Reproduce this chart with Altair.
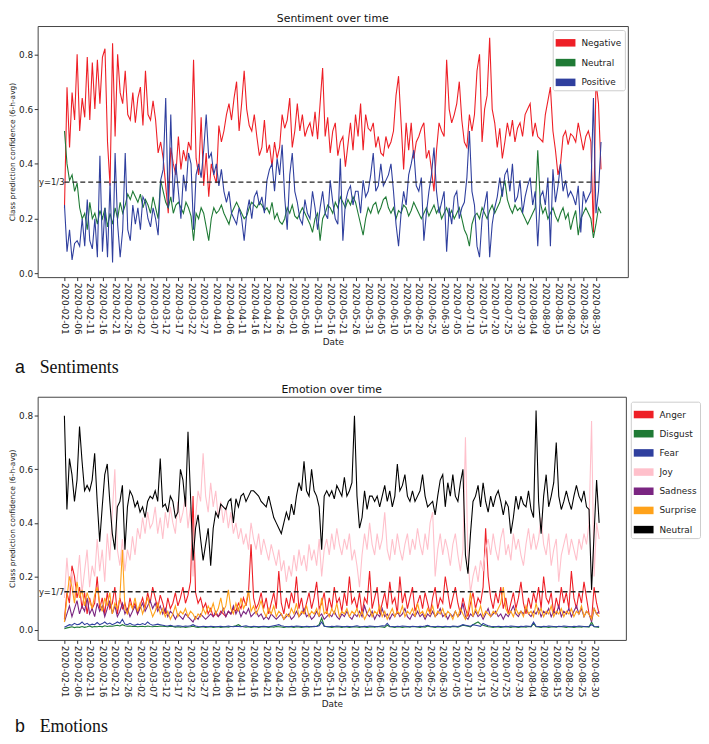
import altair as alt
import pandas as pd

tick_labels = [
    "2020-02-01", "2020-02-06", "2020-02-11", "2020-02-16", "2020-02-21", "2020-02-26",
    "2020-03-02", "2020-03-07", "2020-03-12", "2020-03-17", "2020-03-22", "2020-03-27",
    "2020-04-01", "2020-04-06", "2020-04-11", "2020-04-16", "2020-04-21", "2020-04-26",
    "2020-05-01", "2020-05-06", "2020-05-11", "2020-05-16", "2020-05-21", "2020-05-26",
    "2020-05-31", "2020-06-05", "2020-06-10", "2020-06-15", "2020-06-20", "2020-06-25",
    "2020-06-30", "2020-07-05", "2020-07-10", "2020-07-15", "2020-07-20", "2020-07-25",
    "2020-07-30", "2020-08-04", "2020-08-09", "2020-08-15", "2020-08-20", "2020-08-25",
    "2020-08-30",
]
tick_days = [5 * i for i in range(len(tick_labels))]

# ---------------- Sentiment (daily readings, day 0 = 2020-02-01) ----------------
negative = [
    0.24, 0.68, 0.46, 0.66, 0.56, 0.80, 0.52, 0.64, 0.57, 0.79,
    0.56, 0.77, 0.60, 0.78, 0.62, 0.79, 0.82, 0.48, 0.32, 0.84,
    0.50, 0.80, 0.66, 0.62, 0.74, 0.58, 0.56, 0.66, 0.55, 0.64,
    0.68, 0.54, 0.74, 0.58, 0.56, 0.63, 0.56, 0.44, 0.48, 0.42,
    0.32, 0.22, 0.46, 0.40, 0.36, 0.50, 0.38, 0.45, 0.41, 0.48,
    0.45, 0.78, 0.42, 0.36, 0.57, 0.32, 0.44, 0.28, 0.40, 0.36,
    0.33, 0.54, 0.48, 0.52, 0.58, 0.62, 0.56, 0.64, 0.70, 0.52,
    0.62, 0.74, 0.60, 0.54, 0.52, 0.58, 0.50, 0.43, 0.46, 0.56,
    0.44, 0.47, 0.39, 0.48, 0.42, 0.46, 0.58, 0.53, 0.56, 0.64,
    0.46, 0.52, 0.62, 0.52, 0.58, 0.50, 0.53, 0.55, 0.50, 0.59,
    0.49, 0.62, 0.75, 0.50, 0.57, 0.44, 0.52, 0.55, 0.43, 0.48,
    0.50, 0.39, 0.47, 0.55, 0.45, 0.58, 0.50, 0.62, 0.45, 0.58,
    0.53, 0.52, 0.55, 0.46, 0.50, 0.44, 0.43, 0.50, 0.46, 0.48,
    0.52, 0.65, 0.72, 0.55, 0.38, 0.55, 0.45, 0.55, 0.42, 0.48,
    0.50, 0.53, 0.55, 0.42, 0.45, 0.38, 0.30, 0.45, 0.55, 0.52,
    0.50, 0.78, 0.60, 0.55, 0.58, 0.62, 0.70, 0.56, 0.48, 0.46,
    0.58, 0.52, 0.58, 0.74, 0.80, 0.48, 0.60, 0.65, 0.86, 0.60,
    0.55, 0.46, 0.53, 0.42, 0.48, 0.55, 0.50, 0.56, 0.48, 0.53,
    0.55, 0.50, 0.58, 0.60, 0.62, 0.50, 0.55, 0.50, 0.49, 0.48,
    0.58, 0.63, 0.68, 0.52, 0.45, 0.36, 0.40, 0.50, 0.52, 0.47,
    0.51, 0.50, 0.48, 0.55, 0.50, 0.45, 0.50, 0.52, 0.48, 0.15,
    0.70, 0.62, 0.38,
]
neutral_s = [
    0.52, 0.40, 0.34, 0.36, 0.30, 0.33, 0.24, 0.20, 0.22, 0.16,
    0.26, 0.20, 0.22, 0.18, 0.23, 0.20, 0.24, 0.17, 0.22, 0.18,
    0.24, 0.20, 0.26, 0.22, 0.25, 0.29, 0.27, 0.30, 0.28, 0.26,
    0.29, 0.24, 0.27, 0.25, 0.22, 0.28, 0.24, 0.20, 0.34, 0.30,
    0.26, 0.24, 0.28, 0.22, 0.25, 0.26, 0.24, 0.22, 0.26, 0.24,
    0.21, 0.12, 0.22, 0.20, 0.24, 0.22, 0.17, 0.12, 0.20, 0.24,
    0.22, 0.23, 0.25, 0.22, 0.20, 0.18, 0.22, 0.24, 0.26, 0.24,
    0.22, 0.20, 0.21, 0.24, 0.26, 0.25, 0.24, 0.26, 0.25, 0.23,
    0.24, 0.22, 0.26, 0.20, 0.22, 0.19, 0.18, 0.20, 0.24, 0.22,
    0.25, 0.21, 0.20, 0.22, 0.24, 0.22, 0.20, 0.18, 0.15, 0.20,
    0.22, 0.12, 0.20, 0.22, 0.25, 0.24, 0.22, 0.26, 0.24, 0.28,
    0.26, 0.24, 0.27, 0.25, 0.28, 0.26, 0.22, 0.18, 0.14, 0.20,
    0.24, 0.22, 0.25, 0.26, 0.22, 0.24, 0.27, 0.28, 0.24, 0.22,
    0.24, 0.20, 0.23, 0.22, 0.25, 0.24, 0.21, 0.23, 0.26, 0.24,
    0.22, 0.20, 0.22, 0.24, 0.21, 0.23, 0.25, 0.22, 0.24, 0.20,
    0.22, 0.24, 0.21, 0.23, 0.20, 0.22, 0.24, 0.20, 0.16, 0.14,
    0.10, 0.18, 0.21, 0.22, 0.20, 0.24, 0.22, 0.20, 0.23, 0.25,
    0.22, 0.24, 0.26, 0.30, 0.34, 0.27, 0.24, 0.22, 0.25, 0.23,
    0.24, 0.22, 0.20, 0.18, 0.20, 0.22, 0.24, 0.45, 0.26, 0.22,
    0.24, 0.20, 0.22, 0.24, 0.21, 0.19, 0.22, 0.24, 0.20, 0.22,
    0.16, 0.20, 0.23, 0.14, 0.20, 0.22, 0.24, 0.22, 0.20, 0.13,
    0.18, 0.24, 0.22,
]
positive = [
    0.25, 0.08, 0.16, 0.05, 0.11, 0.12, 0.10, 0.20, 0.10, 0.27,
    0.12, 0.09, 0.20, 0.06, 0.43, 0.08, 0.24, 0.06, 0.33, 0.04,
    0.44, 0.18, 0.06, 0.16, 0.44, 0.16, 0.12, 0.25, 0.18, 0.24,
    0.16, 0.28, 0.26, 0.20, 0.17, 0.24, 0.20, 0.14, 0.34, 0.38,
    0.64, 0.24, 0.58, 0.26, 0.40, 0.30, 0.20, 0.36, 0.30, 0.44,
    0.40, 0.16, 0.36, 0.40, 0.35, 0.45, 0.58, 0.42, 0.44, 0.36,
    0.40, 0.32, 0.38, 0.30, 0.26, 0.30, 0.22, 0.20, 0.18, 0.24,
    0.20, 0.12, 0.22, 0.27, 0.20, 0.28, 0.30, 0.25, 0.28, 0.22,
    0.34, 0.38, 0.40, 0.30, 0.42, 0.36, 0.47, 0.28, 0.16, 0.36,
    0.44, 0.30, 0.26, 0.20, 0.18, 0.27, 0.22, 0.20, 0.30, 0.24,
    0.16, 0.24, 0.30, 0.22, 0.20, 0.34, 0.26, 0.20, 0.18, 0.42,
    0.12, 0.26, 0.30, 0.32, 0.25, 0.30, 0.30, 0.22, 0.34, 0.28,
    0.30, 0.36, 0.44, 0.30, 0.32, 0.40, 0.32, 0.34, 0.36, 0.40,
    0.30, 0.18, 0.10, 0.22, 0.30, 0.25, 0.36, 0.40, 0.45, 0.32,
    0.30, 0.35, 0.12, 0.22, 0.30, 0.36, 0.46, 0.30, 0.22, 0.26,
    0.30, 0.08, 0.24, 0.18, 0.28, 0.30, 0.20, 0.24, 0.26, 0.35,
    0.52, 0.30, 0.25, 0.10, 0.06, 0.20, 0.25, 0.30, 0.06, 0.18,
    0.24, 0.28, 0.35, 0.28, 0.36, 0.38, 0.30, 0.40, 0.26, 0.28,
    0.34, 0.22, 0.28, 0.32, 0.35, 0.25, 0.30, 0.10, 0.28, 0.30,
    0.25, 0.35, 0.10, 0.38, 0.26, 0.32, 0.40, 0.30, 0.34, 0.28,
    0.30, 0.28, 0.25, 0.32, 0.15, 0.30, 0.26, 0.28, 0.30, 0.64,
    0.22, 0.30, 0.48,
]

# ---------------- Emotion (daily readings) ----------------
anger = [
    0.04, 0.14, 0.10, 0.24, 0.20, 0.12, 0.16, 0.08, 0.14, 0.06,
    0.12, 0.08, 0.10, 0.20, 0.08, 0.12, 0.06, 0.14, 0.08, 0.10,
    0.16, 0.06, 0.12, 0.08, 0.10, 0.06, 0.12, 0.08, 0.10, 0.06,
    0.09, 0.12, 0.08, 0.14, 0.10, 0.16, 0.12, 0.08, 0.13, 0.10,
    0.06, 0.12, 0.08, 0.10, 0.14, 0.09, 0.12, 0.16, 0.10, 0.13,
    0.18, 0.50, 0.14, 0.10, 0.12, 0.08, 0.10, 0.06, 0.08, 0.05,
    0.06, 0.05, 0.07, 0.06, 0.05, 0.07, 0.06, 0.08, 0.07, 0.10,
    0.08, 0.12, 0.09, 0.14, 0.32, 0.12, 0.08, 0.10, 0.14, 0.08,
    0.12, 0.06, 0.10, 0.14, 0.08, 0.22, 0.10, 0.06, 0.12, 0.08,
    0.14, 0.10, 0.20, 0.08, 0.12, 0.06, 0.10, 0.14, 0.08, 0.12,
    0.18, 0.08, 0.10, 0.14, 0.06, 0.12, 0.08, 0.16, 0.10, 0.12,
    0.07, 0.14, 0.09, 0.20, 0.10, 0.12, 0.08, 0.14, 0.06, 0.12,
    0.10, 0.22, 0.08, 0.12, 0.16, 0.06, 0.10, 0.14, 0.08, 0.18,
    0.10, 0.12, 0.06, 0.20, 0.10, 0.14, 0.08, 0.12, 0.16, 0.07,
    0.10, 0.13, 0.08, 0.14, 0.10, 0.06, 0.12, 0.16, 0.08, 0.12,
    0.10, 0.20, 0.14, 0.08, 0.12, 0.16, 0.10, 0.06, 0.12, 0.08,
    0.05, 0.10, 0.14, 0.08, 0.12, 0.10, 0.16, 0.38, 0.20, 0.12,
    0.08, 0.14, 0.10, 0.16, 0.08, 0.12, 0.06, 0.10, 0.14, 0.08,
    0.12, 0.18, 0.10, 0.06, 0.12, 0.08, 0.14, 0.10, 0.16, 0.08,
    0.20, 0.12, 0.10, 0.14, 0.06, 0.12, 0.08, 0.16, 0.10, 0.14,
    0.08, 0.22, 0.12, 0.08, 0.14, 0.10, 0.18, 0.12, 0.06, 0.04,
    0.16, 0.10, 0.06,
]
disgust = [
    0.005, 0.008, 0.010, 0.012, 0.009, 0.011, 0.010, 0.013, 0.010, 0.012,
    0.015, 0.011, 0.013, 0.012, 0.014, 0.012, 0.016, 0.013, 0.015, 0.014,
    0.016, 0.018, 0.015, 0.020, 0.016, 0.014, 0.015, 0.013, 0.014, 0.012,
    0.013, 0.014, 0.012, 0.015, 0.013, 0.012, 0.014, 0.013, 0.015, 0.014,
    0.013, 0.012, 0.014, 0.013, 0.011, 0.012, 0.011, 0.012, 0.010, 0.011,
    0.012, 0.014, 0.011, 0.010, 0.011, 0.012, 0.010, 0.011, 0.012, 0.010,
    0.011, 0.012, 0.010, 0.011, 0.012, 0.011, 0.013, 0.014, 0.016, 0.020,
    0.014, 0.012, 0.011, 0.012, 0.010, 0.011, 0.012, 0.010, 0.011, 0.012,
    0.011, 0.010, 0.012, 0.011, 0.013, 0.012, 0.011, 0.010, 0.011, 0.012,
    0.011, 0.010, 0.012, 0.011, 0.010, 0.011, 0.012, 0.011, 0.013, 0.012,
    0.014, 0.020, 0.045, 0.015, 0.012, 0.011, 0.010, 0.011, 0.012, 0.011,
    0.010, 0.012, 0.011, 0.010, 0.011, 0.012, 0.011, 0.010, 0.012, 0.011,
    0.010, 0.011, 0.012, 0.011, 0.013, 0.012, 0.011, 0.010, 0.018, 0.012,
    0.011, 0.010, 0.012, 0.011, 0.010, 0.011, 0.012, 0.011, 0.013, 0.012,
    0.011, 0.010, 0.012, 0.011, 0.015, 0.012, 0.011, 0.010, 0.012, 0.011,
    0.010, 0.011, 0.012, 0.011, 0.013, 0.012, 0.011, 0.014, 0.018, 0.016,
    0.014, 0.012, 0.020, 0.025, 0.030, 0.022, 0.018, 0.015, 0.012, 0.011,
    0.010, 0.012, 0.011, 0.010, 0.011, 0.012, 0.011, 0.010, 0.012, 0.011,
    0.010, 0.011, 0.012, 0.011, 0.013, 0.012, 0.025, 0.012, 0.011, 0.010,
    0.012, 0.011, 0.010, 0.011, 0.012, 0.011, 0.013, 0.012, 0.011, 0.010,
    0.012, 0.011, 0.010, 0.011, 0.012, 0.011, 0.013, 0.012, 0.011, 0.030,
    0.012, 0.011, 0.010,
]
fear = [
    0.010, 0.015, 0.020, 0.018, 0.025, 0.020, 0.022, 0.030, 0.020, 0.025,
    0.018, 0.022, 0.020, 0.028, 0.020, 0.024, 0.030, 0.022, 0.026, 0.020,
    0.024, 0.030, 0.025, 0.040, 0.022, 0.020, 0.025, 0.020, 0.018, 0.022,
    0.020, 0.024, 0.020, 0.030, 0.022, 0.018, 0.020, 0.022, 0.020, 0.018,
    0.016, 0.015, 0.018, 0.015, 0.014, 0.016, 0.015, 0.013, 0.015, 0.014,
    0.016, 0.020, 0.015, 0.013, 0.012, 0.014, 0.013, 0.012, 0.014, 0.013,
    0.012, 0.013, 0.014, 0.012, 0.013, 0.015, 0.013, 0.012, 0.014, 0.013,
    0.012, 0.014, 0.016, 0.013, 0.012, 0.014, 0.013, 0.012, 0.013, 0.014,
    0.013, 0.012, 0.014, 0.016, 0.018, 0.020, 0.016, 0.014, 0.013, 0.012,
    0.014, 0.013, 0.015, 0.014, 0.013, 0.012, 0.014, 0.013, 0.012, 0.014,
    0.013, 0.016, 0.030, 0.014, 0.013, 0.012, 0.014, 0.013, 0.015, 0.014,
    0.013, 0.012, 0.014, 0.013, 0.012, 0.014, 0.016, 0.013, 0.012, 0.014,
    0.013, 0.015, 0.014, 0.013, 0.012, 0.014, 0.016, 0.015, 0.025, 0.014,
    0.013, 0.012, 0.014, 0.013, 0.015, 0.014, 0.013, 0.012, 0.014, 0.013,
    0.012, 0.014, 0.013, 0.015, 0.018, 0.014, 0.013, 0.012, 0.014, 0.013,
    0.012, 0.014, 0.013, 0.012, 0.015, 0.014, 0.013, 0.016, 0.020, 0.018,
    0.016, 0.014, 0.020, 0.018, 0.016, 0.014, 0.025, 0.020, 0.016, 0.014,
    0.013, 0.012, 0.014, 0.013, 0.012, 0.014, 0.013, 0.015, 0.014, 0.013,
    0.012, 0.014, 0.013, 0.015, 0.014, 0.013, 0.030, 0.014, 0.013, 0.012,
    0.014, 0.013, 0.015, 0.014, 0.013, 0.012, 0.014, 0.013, 0.015, 0.014,
    0.013, 0.012, 0.014, 0.013, 0.015, 0.014, 0.013, 0.012, 0.014, 0.020,
    0.013, 0.012, 0.014,
]
joy = [
    0.12, 0.27, 0.15, 0.22, 0.12, 0.18, 0.28, 0.14, 0.22, 0.30,
    0.16, 0.24, 0.20, 0.34, 0.22, 0.30, 0.18, 0.36, 0.26, 0.44,
    0.60, 0.30, 0.24, 0.34, 0.22, 0.30, 0.26, 0.35, 0.28, 0.38,
    0.34, 0.42, 0.36, 0.44, 0.38, 0.40, 0.46, 0.36, 0.42, 0.34,
    0.44, 0.38, 0.46, 0.40, 0.36, 0.48, 0.40, 0.44, 0.50, 0.38,
    0.46, 0.20, 0.42, 0.52, 0.48, 0.66, 0.50, 0.44, 0.55, 0.46,
    0.52, 0.42, 0.48, 0.40, 0.46, 0.38, 0.44, 0.36, 0.40, 0.34,
    0.38, 0.32, 0.36, 0.30, 0.40, 0.34, 0.30, 0.36, 0.28, 0.34,
    0.30, 0.26, 0.32, 0.28, 0.24, 0.30, 0.22, 0.26, 0.18, 0.24,
    0.20, 0.28, 0.22, 0.30, 0.24, 0.28, 0.22, 0.32, 0.26, 0.30,
    0.24, 0.34, 0.20, 0.30, 0.34, 0.28, 0.36, 0.30, 0.38, 0.32,
    0.28, 0.34, 0.30, 0.36, 0.26, 0.30, 0.24, 0.16, 0.28, 0.36,
    0.30, 0.40, 0.32, 0.28, 0.36, 0.30, 0.34, 0.44, 0.30, 0.26,
    0.34, 0.28, 0.36, 0.30, 0.26, 0.32, 0.36, 0.28, 0.34, 0.30,
    0.38, 0.32, 0.28, 0.36, 0.30, 0.40, 0.44, 0.20, 0.30, 0.36,
    0.28, 0.34, 0.30, 0.24, 0.32, 0.36, 0.28, 0.22, 0.30, 0.72,
    0.26, 0.14, 0.20, 0.24, 0.18, 0.26, 0.22, 0.30, 0.34, 0.28,
    0.36, 0.30, 0.26, 0.34, 0.38, 0.28, 0.32, 0.26, 0.36, 0.30,
    0.34, 0.28, 0.24, 0.32, 0.38, 0.30, 0.36, 0.30, 0.34, 0.42,
    0.32, 0.28, 0.36, 0.24, 0.30, 0.34, 0.18, 0.28, 0.32, 0.36,
    0.28, 0.34, 0.30, 0.26, 0.34, 0.30, 0.36, 0.32, 0.40, 0.78,
    0.20, 0.40, 0.34,
]
sadness = [
    0.03, 0.06, 0.09, 0.05, 0.08, 0.11, 0.06, 0.09, 0.07, 0.12,
    0.06, 0.08, 0.05, 0.10, 0.07, 0.09, 0.05, 0.08, 0.11, 0.06,
    0.09, 0.05, 0.07, 0.10, 0.06, 0.08, 0.05, 0.07, 0.09, 0.06,
    0.08, 0.10, 0.07, 0.09, 0.11, 0.08, 0.10, 0.07, 0.09, 0.06,
    0.08, 0.05, 0.07, 0.06, 0.04, 0.06, 0.05, 0.04, 0.06, 0.05,
    0.04, 0.03, 0.05, 0.04, 0.06, 0.05, 0.04, 0.05, 0.06, 0.05,
    0.07, 0.05, 0.06, 0.08, 0.05, 0.07, 0.06, 0.09, 0.06, 0.08,
    0.05, 0.07, 0.06, 0.08, 0.05, 0.06, 0.07, 0.05, 0.06, 0.04,
    0.05, 0.04, 0.06, 0.05, 0.04, 0.05, 0.06, 0.04, 0.05, 0.06,
    0.04, 0.05, 0.07, 0.05, 0.06, 0.08, 0.05, 0.06, 0.04, 0.05,
    0.07, 0.05, 0.06, 0.04, 0.05, 0.06, 0.05, 0.07, 0.05, 0.04,
    0.06, 0.05, 0.07, 0.05, 0.04, 0.06, 0.05, 0.07, 0.05, 0.09,
    0.06, 0.05, 0.07, 0.04, 0.06, 0.05, 0.08, 0.05, 0.06, 0.04,
    0.06, 0.05, 0.07, 0.05, 0.06, 0.08, 0.05, 0.04, 0.06, 0.05,
    0.07, 0.05, 0.06, 0.04, 0.06, 0.05, 0.07, 0.05, 0.06, 0.08,
    0.05, 0.06, 0.04, 0.06, 0.05, 0.07, 0.05, 0.06, 0.10, 0.05,
    0.04, 0.06, 0.05, 0.07, 0.05, 0.06, 0.04, 0.06, 0.08, 0.05,
    0.06, 0.07, 0.05, 0.06, 0.04, 0.06, 0.05, 0.07, 0.09, 0.06,
    0.05, 0.07, 0.06, 0.08, 0.06, 0.05, 0.07, 0.06, 0.08, 0.05,
    0.07, 0.06, 0.08, 0.05, 0.07, 0.06, 0.09, 0.05, 0.07, 0.06,
    0.08, 0.05, 0.07, 0.09, 0.06, 0.08, 0.05, 0.07, 0.06, 0.03,
    0.08, 0.06, 0.07,
]
surprise = [
    0.03, 0.12, 0.20, 0.16, 0.10, 0.18, 0.12, 0.15, 0.09, 0.14,
    0.11, 0.08, 0.13, 0.16, 0.10, 0.07, 0.12, 0.09, 0.14, 0.06,
    0.10, 0.08, 0.12, 0.30, 0.08, 0.06, 0.10, 0.08, 0.12, 0.07,
    0.10, 0.06, 0.09, 0.12, 0.08, 0.05, 0.07, 0.10, 0.06, 0.08,
    0.05, 0.07, 0.04, 0.06, 0.09, 0.05, 0.07, 0.06, 0.08, 0.05,
    0.07, 0.06, 0.04, 0.06, 0.05, 0.08, 0.06, 0.09, 0.07, 0.10,
    0.06, 0.08, 0.12, 0.07, 0.09, 0.15, 0.08, 0.06, 0.10, 0.07,
    0.12, 0.08, 0.10, 0.15, 0.07, 0.09, 0.06, 0.08, 0.11, 0.07,
    0.05, 0.08, 0.06, 0.09, 0.05, 0.07, 0.06, 0.04, 0.06, 0.05,
    0.08, 0.06, 0.10, 0.05, 0.07, 0.06, 0.09, 0.05, 0.07, 0.06,
    0.08, 0.05, 0.12, 0.06, 0.07, 0.05, 0.08, 0.06, 0.10, 0.05,
    0.07, 0.06, 0.08, 0.05, 0.07, 0.06, 0.08, 0.05, 0.07, 0.04,
    0.06, 0.08, 0.05, 0.07, 0.06, 0.09, 0.05, 0.07, 0.04, 0.06,
    0.08, 0.05, 0.07, 0.06, 0.09, 0.05, 0.07, 0.06, 0.08, 0.05,
    0.10, 0.06, 0.07, 0.05, 0.08, 0.06, 0.09, 0.05, 0.07, 0.06,
    0.08, 0.05, 0.07, 0.06, 0.04, 0.07, 0.05, 0.08, 0.06, 0.04,
    0.07, 0.14, 0.05, 0.08, 0.06, 0.09, 0.05, 0.07, 0.06, 0.05,
    0.07, 0.06, 0.08, 0.10, 0.16, 0.08, 0.06, 0.07, 0.05, 0.08,
    0.06, 0.07, 0.05, 0.09, 0.06, 0.07, 0.05, 0.10, 0.06, 0.08,
    0.05, 0.07, 0.06, 0.09, 0.05, 0.07, 0.06, 0.08, 0.05, 0.07,
    0.06, 0.08, 0.05, 0.07, 0.06, 0.09, 0.05, 0.07, 0.06, 0.04,
    0.08, 0.06, 0.05,
]
neutral_e = [
    0.80, 0.45, 0.64, 0.58, 0.48, 0.56, 0.76, 0.63, 0.52, 0.54,
    0.52, 0.56, 0.66, 0.48, 0.33, 0.46, 0.58, 0.62, 0.48, 0.36,
    0.30, 0.46, 0.48, 0.54, 0.30, 0.46, 0.52, 0.50, 0.46, 0.48,
    0.44, 0.46, 0.42, 0.48, 0.50, 0.49, 0.52, 0.48, 0.64, 0.46,
    0.47, 0.44, 0.50, 0.48, 0.42, 0.44, 0.60, 0.56, 0.46, 0.74,
    0.50, 0.26, 0.38, 0.43, 0.34, 0.26, 0.32, 0.38, 0.24, 0.38,
    0.44, 0.42, 0.47, 0.46, 0.45, 0.48, 0.49, 0.40, 0.49, 0.46,
    0.50, 0.51, 0.48, 0.50, 0.52, 0.52, 0.51, 0.50, 0.48, 0.47,
    0.46, 0.50, 0.46, 0.42, 0.40, 0.38, 0.36, 0.40, 0.44, 0.41,
    0.47, 0.43, 0.50, 0.55, 0.52, 0.63, 0.52, 0.50, 0.60, 0.52,
    0.50, 0.46, 0.30, 0.50, 0.52, 0.50, 0.52, 0.49, 0.54, 0.52,
    0.50, 0.57, 0.50, 0.52, 0.55, 0.80, 0.50, 0.38, 0.42, 0.52,
    0.45, 0.50, 0.50, 0.48, 0.50, 0.46, 0.50, 0.54, 0.48, 0.52,
    0.46, 0.50, 0.62, 0.52, 0.54, 0.58, 0.50, 0.48, 0.52, 0.48,
    0.50, 0.52, 0.58, 0.50, 0.46, 0.47, 0.48, 0.43, 0.50, 0.56,
    0.58, 0.46, 0.55, 0.50, 0.58, 0.50, 0.48, 0.55, 0.60, 0.28,
    0.21, 0.36, 0.48, 0.50, 0.54, 0.46, 0.55, 0.48, 0.44, 0.50,
    0.46, 0.50, 0.52, 0.48, 0.43, 0.48, 0.46, 0.36, 0.42, 0.50,
    0.45, 0.50, 0.47, 0.46, 0.52, 0.45, 0.42, 0.82, 0.48, 0.36,
    0.50, 0.58, 0.46, 0.50, 0.55, 0.70, 0.50, 0.45, 0.48, 0.52,
    0.48, 0.45, 0.50, 0.54, 0.50, 0.48, 0.52, 0.46, 0.45, 0.15,
    0.36, 0.56, 0.40,
]

sent_names = ["Negative", "Neutral", "Positive"]
sent_colors = ["#ee1f26", "#1f7a35", "#2f3f9e"]
sent_series = [negative, neutral_s, positive]

emo_names = ["Anger", "Disgust", "Fear", "Joy", "Sadness", "Surprise", "Neutral"]
emo_colors = ["#ee1f26", "#1f7a35", "#2f3f9e", "#ffc0cb", "#7a2581", "#ffa21a", "#000000"]
emo_series = [anger, disgust, fear, joy, sadness, surprise, neutral_e]


def long_table(names, series):
    rows = []
    for k, (name, vals) in enumerate(zip(names, series)):
        for i, v in enumerate(vals):
            rows.append({"day": i, "series": name, "value": v, "k": k})
    return pd.DataFrame(rows)


df_sent = long_table(sent_names, sent_series)
df_emo = long_table(emo_names, emo_series)
last_day = max(len(s) for s in sent_series) - 1

label_expr = "[" + ",".join("'%s'" % t for t in tick_labels) + "][round(datum.value/5)]"

AX = "#333333"
FONT = "DejaVu Sans"


def x_enc():
    return alt.X(
        "day:Q",
        scale=alt.Scale(domain=[-10.6, 222.6], nice=False, zero=False),
        axis=alt.Axis(
            values=tick_days, labelExpr=label_expr, labelAngle=90, title="Date",
            grid=False, domain=False, tickSize=3.5, labelFontSize=9, titleFontSize=9,
            labelPadding=2, titlePadding=3, labelOverlap=False, labelFlush=False,
            labelBound=False, tickColor=AX, labelColor="#222222", titleColor="#222222",
            titleFontWeight="normal",
        ),
    )


def y_enc(domain):
    return alt.Y(
        "value:Q",
        scale=alt.Scale(domain=domain, nice=False, zero=False),
        axis=alt.Axis(
            values=[0, 0.2, 0.4, 0.6, 0.8], format=".1f",
            title="Class prediction confidence (6-h-avg)", grid=False, domain=False,
            tickSize=3.5, labelFontSize=9, titleFontSize=7.5, labelPadding=1.5,
            titlePadding=2, tickColor=AX, labelColor="#222222", titleColor="#222222",
            titleFontWeight="normal",
        ),
    )


SYMBOL = "M-1,-0.38L1,-0.38L1,0.38L-1,0.38Z"


def make_legend(x, y, row_pad):
    return alt.Legend(
        title=None, orient="none", legendX=x, legendY=y,
        symbolType=SYMBOL, symbolSize=400, symbolStrokeWidth=0, symbolOpacity=1,
        labelFontSize=9, labelOffset=6, rowPadding=row_pad, padding=3,
        strokeColor="#cccccc", fillColor="white", cornerRadius=2,
        labelColor="#222222",
    )


def panel(df, names, colors, ydomain, w, h, legend, thresh, thresh_txt, cap_a, cap_b, cap_dy, title):
    xe = x_enc()
    ye = y_enc(ydomain)
    # lines coloured through the stroke channel keyed on the series index (own scale, no legend)
    lines = alt.Chart(df).mark_line(strokeWidth=1.1, clip=True).encode(
        x=xe,
        y=ye,
        stroke=alt.Stroke(
            "k:N", scale=alt.Scale(domain=list(range(len(names))), range=colors), legend=None
        ),
    )
    # an empty layer on the series names carries the legend with filled swatches
    swatches = alt.Chart(df).mark_square(filled=True, opacity=1).encode(
        x=xe,
        y=ye,
        color=alt.Color("series:N", scale=alt.Scale(domain=names, range=colors), legend=legend),
    ).transform_filter("false")
    ref = pd.DataFrame({"day": [0], "day2": [last_day], "value": [thresh], "t": [thresh_txt]})
    rule = alt.Chart(ref).mark_rule(strokeDash=[5, 3], color="#222222", strokeWidth=1.3).encode(
        x=xe, x2="day2:Q", y=ye
    )
    txt = alt.Chart(ref).mark_text(
        align="right", baseline="middle", fontSize=8.5, color="#222222", font=FONT
    ).encode(x=xe, y=ye, text="t:N")
    one = pd.DataFrame({"z": [0]})
    cap1 = alt.Chart(one).mark_text(
        align="left", baseline="middle", fontSize=18, color="#111111", font="Liberation Sans"
    ).encode(x=alt.value(-23), y=alt.value(h + cap_dy), text=alt.value(cap_a))
    cap2 = alt.Chart(one).mark_text(
        align="left", baseline="middle", fontSize=18, color="#111111", font="Liberation Serif"
    ).encode(x=alt.value(2), y=alt.value(h + cap_dy), text=alt.value(cap_b))
    return alt.layer(lines, swatches, rule, txt, cap1, cap2).properties(
        width=w, height=h,
        title=alt.TitleParams(title, fontSize=11, fontWeight="normal", offset=2,
                              anchor="middle", color="#111111", font=FONT),
    )


top = panel(df_sent, sent_names, sent_colors, [-0.013, 0.903], 597, 254,
            make_legend(521, 4, 5), 1 / 3, "y=1/3", "a", "Sentiments", 92,
            "Sentiment over time")
bottom = panel(df_emo, emo_names, emo_colors, [-0.037, 0.871], 595, 246,
               make_legend(600, 5, 4.4), 1 / 7, "y=1/7", "b", "Emotions", 88,
               "Emotion over time")

chart = alt.vconcat(top, bottom, spacing=5).resolve_scale(
    x="independent", y="independent", color="independent", stroke="independent"
).resolve_legend(color="independent").properties(
    padding=0
).configure(font=FONT, padding=0).configure_view(stroke="#444444", strokeWidth=1)

chart.save("out.html", embed_options={"renderer": "svg", "actions": False})
